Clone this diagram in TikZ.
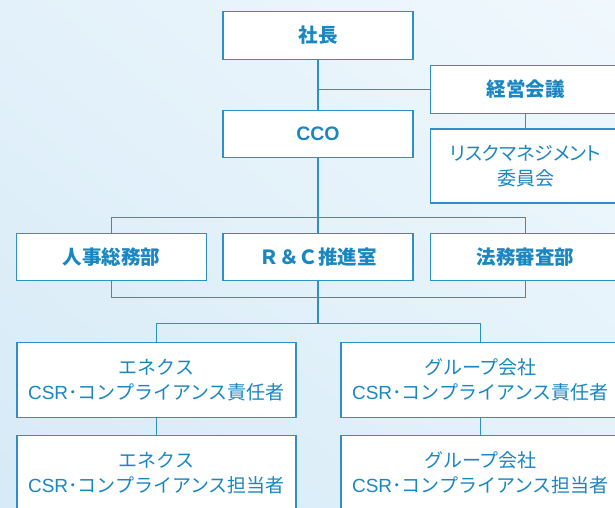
\documentclass[tikz,border=0pt]{standalone}
\usepackage{fontspec}
\setmainfont{Noto Sans CJK JP}
\newfontfamily\latinfont{Liberation Sans}
\newfontfamily\paltfont[RawFeature=+palt]{Noto Sans CJK JP}
\usepackage{tikz}
\usetikzlibrary{shapes,arrows,positioning,shadings}
\definecolor{orgblue}{HTML}{1B87C1}
\definecolor{rulecol}{HTML}{2E90C8}
\definecolor{bgtl}{HTML}{E3F1FA}
\definecolor{bgtr}{HTML}{F0F8FD}
\definecolor{bgbl}{HTML}{D6EAF7}
\definecolor{bgbr}{HTML}{E2F1FA}
\tikzstyle{block} = [draw=rulecol, fill=white, rectangle, line width=1.2pt, minimum height=47.5pt, minimum width=190pt, inner sep=0pt, text=orgblue, font=\fontsize{19.5pt}{25pt}\selectfont\bfseries]
\tikzstyle{tall} = [block, minimum height=74pt, align=center, font=\fontsize{19pt}{25pt}\selectfont\paltfont]
\tikzstyle{wide} = [block, minimum height=75pt, minimum width=279pt, align=center, font=\fontsize{19pt}{25pt}\selectfont]
\tikzstyle{link} = [draw=rulecol, line width=1.2pt]
\tikzstyle{joint} = [coordinate]

\begin{document}
\begin{tikzpicture}[auto, node distance=123pt, x=1pt, y=-1pt]
    % background and frame of the picture
    \shade [upper left=bgtl, upper right=bgtr, lower left=bgbl, lower right=bgbr] (0,0) rectangle (615,508);
    \useasboundingbox (0,0) rectangle (615,508);
    \clip (0,0) rectangle (615,508);

    % We start by placing the blocks
    \node [block] (pres) at (318,35.5) {社長};
    \node [block, below of = pres, yshift = 24.5pt] (cco) {\latinfont CCO};
    \node [block, below of = cco] (rc) {Ｒ＆Ｃ推進室};
    \node [block, left of = rc, node distance = 206.5pt] (hr) {人事総務部};
    \node [block, right of = rc, node distance = 207.5pt] (legal) {法務審査部};
    \node [block, above of = legal, node distance = 167.5pt] (mgmt) {経営会議};
    \node [tall, below of = mgmt, node distance = 76.5pt] (risk) {リスクマネジメント\\委員会};
    \node [wide, below of = rc, xshift = -161.5pt] (enx1) {エネクス\\{\latinfont CSR}･コンプライアンス責任者};
    \node [wide, below of = rc, xshift = 162.5pt] (grp1) {グループ会社\\{\latinfont CSR}･コンプライアンス責任者};
    \node [wide, below of = enx1, node distance = 93pt] (enx2) {エネクス\\{\latinfont CSR}･コンプライアンス担当者};
    \node [wide, below of = grp1, node distance = 93pt] (grp2) {グループ会社\\{\latinfont CSR}･コンプライアンス担当者};

    % free ends of the bars
    \node [joint] (topbar) at ([yshift=15pt]rc.north) {};
    \node [joint] (botbar) at ([yshift=-16pt]rc.south) {};
    \node [joint] (branch) at ([yshift=-42pt]rc.south) {};

    % Once the nodes are placed, the lines go between them.
    \draw [link] (pres) -- (cco);
    \draw [link] (mgmt.west) -- (mgmt.west -| pres.south);
    \draw [link] (mgmt) -- (risk);
    \draw [link] (cco) -- (rc);
    \draw [link] (hr.north) |- (topbar) -| (legal.north);
    \draw [link] (hr.south) |- (botbar) -| (legal.south);
    \draw [link] (rc) -- (branch);
    \draw [link] (enx1.north) |- (branch) -| (grp1.north);
    \draw [link] (enx1) -- (enx2);
    \draw [link] (grp1) -- (grp2);
\end{tikzpicture}
\end{document}
